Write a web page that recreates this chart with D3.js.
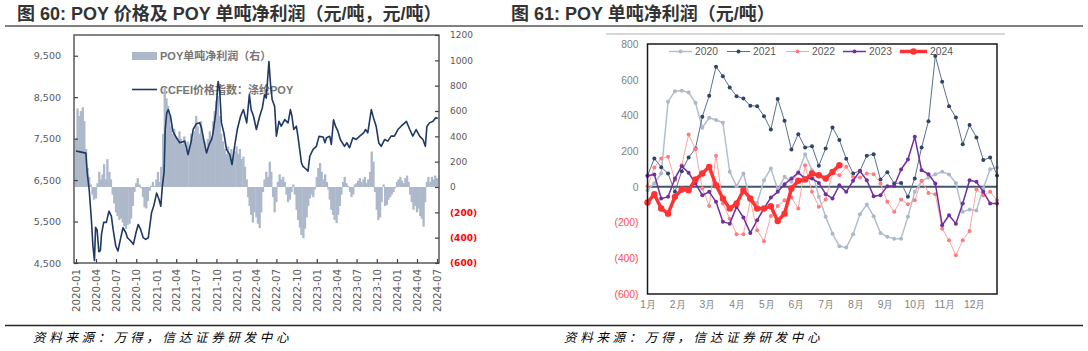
<!DOCTYPE html>
<html>
<head>
<meta charset="utf-8">
<script src="https://cdn.jsdelivr.net/npm/d3@7"></script>
<style>
body{margin:0;background:#fff;}
svg{display:block;font-family:"Liberation Sans","Noto Sans CJK SC",sans-serif;}
.title{font-size:18px;font-weight:bold;fill:#333;}
.src{font-size:12.5px;font-style:italic;letter-spacing:3.7px;fill:#000;font-family:"Noto Sans CJK SC",sans-serif;}
</style>
</head>
<body>
<svg id="chart" width="1088" height="351"></svg>
<script>
// ---------- 图60：POY价格（CCFEI 涤纶POY，元/吨） ----------
var priceDates = ["2020-01-01","2020-01-19","2020-02-15","2020-02-21","2020-03-01","2020-03-11","2020-03-18","2020-03-25","2020-03-30","2020-04-06","2020-04-14","2020-04-21","2020-04-26","2020-05-06","2020-05-18","2020-05-30","2020-06-10","2020-06-18","2020-06-30","2020-07-10","2020-07-21","2020-08-02","2020-08-15","2020-08-22","2020-09-06","2020-09-18","2020-09-30","2020-10-10","2020-10-21","2020-11-02","2020-11-13","2020-11-25","2020-12-10","2020-12-20",
  "2021-01-02","2021-01-13","2021-01-21","2021-01-28","2021-02-05","2021-02-10","2021-02-17","2021-02-24","2021-03-06","2021-03-17","2021-04-02","2021-04-17","2021-05-10","2021-05-25","2021-06-10","2021-06-17","2021-07-02","2021-07-17","2021-07-25","2021-08-04","2021-08-17","2021-08-29","2021-09-09","2021-09-16","2021-09-28","2021-10-09","2021-10-16","2021-10-24","2021-11-04","2021-11-16","2021-12-01","2021-12-11","2021-12-23",
  "2022-01-04","2022-01-19","2022-02-01","2022-02-16","2022-02-28","2022-03-08","2022-03-19","2022-04-01","2022-04-16","2022-04-28","2022-05-08","2022-05-16","2022-05-28","2022-06-05","2022-06-12","2022-06-23","2022-07-01","2022-07-13","2022-07-23","2022-08-08","2022-08-23","2022-09-03","2022-09-10","2022-09-18","2022-09-30","2022-10-07","2022-10-15","2022-10-23","2022-10-30","2022-11-15","2022-11-22","2022-11-30","2022-12-15","2022-12-30",
  "2023-01-11","2023-01-30","2023-02-07","2023-02-14","2023-03-01","2023-03-08","2023-03-18","2023-03-27","2023-04-07","2023-04-18","2023-05-07","2023-05-18","2023-05-30","2023-06-14","2023-06-29","2023-07-14","2023-08-02","2023-08-11","2023-08-21","2023-09-06","2023-09-16","2023-09-28","2023-10-10","2023-10-21","2023-11-06","2023-11-20","2023-12-05","2023-12-20",
  "2024-01-05","2024-01-20","2024-02-13","2024-02-28","2024-03-13","2024-03-28","2024-04-13","2024-04-28","2024-05-09","2024-05-16","2024-05-28","2024-06-13","2024-06-24","2024-07-05"];
var priceValues = [7200,7180,7150,6680,6270,5550,4910,4560,5360,5300,4770,4800,5190,5480,5480,5750,5630,5310,4910,4790,5070,5350,5230,5110,5030,4950,5230,5430,5310,5110,5070,5110,5720,5880,
  6190,6030,5870,6350,6700,7720,8120,8200,8040,7680,7520,7400,7440,7115,7480,7720,7860,7880,7760,7480,7155,7360,7480,7640,8120,8880,8680,7880,7640,7240,7115,6875,7320,
  7720,8040,8200,7880,8560,8200,8040,7720,8040,8240,8560,8480,9360,8760,8440,8280,7560,7920,7800,7960,7880,8200,8040,7720,7800,7560,7240,6915,6830,6755,6715,7075,7240,7315,
  7555,7540,7400,7520,7555,7360,7955,7800,7680,7480,7315,7400,7280,7520,7480,7555,7640,7720,7640,8200,8000,7800,7395,7315,7480,7440,7560,7560,
  7720,7800,7915,7720,7560,7720,7560,7480,7315,7795,7880,7920,8000,7990];

// POY单吨净利润（右轴），每月4个读数
var profit2020 = [380,620,560,600, 630,520,300,150, 80,20,-60,-100, -90,30,120,60, 100,180,60,220, 120,60,-60,-130,
  -200,-230,-260,-250, -280,-310,-330,-300, -290,-250,-150,-40, 30,70,20,-10, -80,-160,-170,-110, -30,10,40,10];
var profit2021 = [60,120,40,160, 420,780,700,640, 560,480,420,460, 400,360,440,380, 340,400,300,360, 320,420,380,440,
  560,480,420,520, 400,360,300,380, 440,380,520,600, 680,720,560,420, 360,300,260,320, 260,300,220,280];
var profit2022 = [320,260,300,220, 240,160,60,-80, -150,-220,-280,-200, -240,-290,-325,-200, -40,60,120,80, 200,120,-80,-200,
  -120,40,100,60, 80,40,-60,-120, -100,-40,20,-60, -180,-260,-320,-380, -405,-330,-240,-150, -90,-60,-80,-20];
var profit2023 = [80,150,190,120, 60,100,40,-20, -100,-180,-220,-260, -285,-220,-150,-60, 40,80,30,10, -40,-80,-60,20,
  30,50,70,40, 60,80,30,60, 120,280,200,-40, -180,-260,-240,-120, 20,-150,-140,-100, -80,-60,-40,-10];
var profit2024 = [40,60,80,50, 30,70,90,40, -60,-120,-180,-150, -200,-170,-230,-250, -313,-120,40,80, 40,80,60,90, 70];
var profitYears = [2020,2021,2022,2023,2024];

// ---------- 图61：POY单吨净利润，按周（元/吨） ----------
var years = ["2020","2021","2022","2023","2024"];
var weekly2020 = [-19,20,75,477,536,538,529,471,331,387,374,359,84,4,75,-71,-90,37,103,-15,56,28,79,183,93,-56,-168,-262,-333,-340,-265,-153,-99,-164,-258,-280,-290,-290,-168,-28,34,52,71,84,69,22,-140,-127,-133,-9,99,108];
var weekly2021 = [62,159,110,75,-28,88,164,215,393,510,673,620,557,508,495,454,452,396,321,492,370,209,295,220,228,118,215,333,262,157,75,90,174,183,41,82,19,22,-56,47,221,368,733,589,452,389,239,346,277,150,164,64];
var weekly2022 = [4,108,159,168,37,121,293,210,-9,-107,174,-93,-178,-265,-265,-75,-243,-305,-163,-107,-75,-60,-121,121,-28,-112,-71,75,65,112,56,52,75,71,19,-84,-140,-71,-97,-75,34,-34,-41,-234,-299,-383,-299,-247,-13,-47,-28,-75];
var weekly2023 = [62,69,-65,-56,47,116,79,19,-47,-28,-84,-196,-206,-112,-172,-258,-187,-121,-60,-28,15,47,80,47,47,22,-41,-65,9,-28,34,88,37,-52,-47,4,6,97,153,280,93,71,19,-215,-159,-206,-93,37,28,-28,-93,-93];
var weekly2024 = [-88,-41,-121,-150,-56,-15,-19,41,75,112,9,-65,-121,-93,-19,-65,-121,-121,-108,-191,-150,-9,34,41,75,65,47,84,121];
var monthLabels = ["1月","2月","3月","4月","5月","6月","7月","8月","9月","10月","11月","12月"];

var svg = d3.select("#chart");
var parse = d3.timeParse("%Y-%m-%d");
var paren = function(d){ return d < 0 ? "(" + (-d) + ")" : d; };

// 标题与分隔线
svg.append("text").attr("class","title").attr("x",17).attr("y",20).text("图 60:  POY 价格及 POY 单吨净利润（元/吨，元/吨）");
svg.append("text").attr("class","title").attr("x",511).attr("y",20).text("图 61:  POY 单吨净利润（元/吨）");
svg.append("line").attr("x1",5).attr("x2",1083).attr("y1",26).attr("y2",26).attr("stroke","#808080").attr("stroke-width",2);
svg.append("line").attr("x1",5).attr("x2",1083).attr("y1",325.5).attr("y2",325.5).attr("stroke","#262626").attr("stroke-width",1.3);
svg.append("text").attr("class","src").attr("x",33).attr("y",342).text("资料来源：万得，信达证券研发中心");
svg.append("text").attr("class","src").attr("x",564).attr("y",342).text("资料来源：万得，信达证券研发中心");

// ================= 左图 =================
var x1 = d3.scaleTime().domain([new Date(2020,0,1), new Date(2024,6,1)]).range([76,437]);
var yL = d3.scaleLinear().domain([4500,10000]).range([263,35]);
var yR = d3.scaleLinear().domain([-600,1200]).range([263,35]);

// legend (drawn first, the line runs over it)
var lg = svg.append("g").style("font-size","11px").style("font-weight","bold").attr("fill","#767676");
lg.append("rect").attr("x",132).attr("y",52).attr("width",25).attr("height",8).attr("fill","#ADB9CA");
lg.append("text").attr("x",160).attr("y",60).text("POY单吨净利润（右）");
lg.append("line").attr("x1",132).attr("x2",157).attr("y1",89.5).attr("y2",89.5).attr("stroke","#1F3864").attr("stroke-width",1.6);
lg.append("text").attr("x",160).attr("y",93.5).text("CCFEI价格指数：涤纶POY");

var bars = [];
var profitByYear = [profit2020,profit2021,profit2022,profit2023,profit2024];
profitByYear.forEach(function(arr, yi){
  arr.forEach(function(v, k){
    bars.push({date: new Date(profitYears[yi], Math.floor(k/4), 1 + (k%4)*7.6), v: v});
  });
});
svg.append("g").selectAll("rect").data(bars).enter().append("rect")
  .attr("x", function(d){ return x1(d.date) - 1.15; })
  .attr("width", 2.3)
  .attr("y", function(d){ return yR(Math.max(d.v,0)); })
  .attr("height", function(d){ return Math.abs(yR(d.v) - yR(0)); })
  .attr("fill","#ADB9CA");

var price = priceDates.map(function(d,i){ return {date: parse(d), v: priceValues[i]}; });
svg.append("path").datum(price)
  .attr("fill","none").attr("stroke","#1F3864").attr("stroke-width",1.6).attr("stroke-linejoin","round")
  .attr("d", d3.line().x(function(d){ return x1(d.date); }).y(function(d){ return yL(d.v); }));

svg.append("rect").attr("x",74).attr("y",35).attr("width",365).attr("height",228)
  .attr("fill","none").attr("stroke","#404040").attr("stroke-width",1.3);

var axL = svg.append("g").attr("transform","translate(74,0)")
  .call(d3.axisLeft(yL).tickValues([4500,5500,6500,7500,8500,9500]).tickSize(-4).tickPadding(13).tickFormat(d3.format(",")));
var axB = svg.append("g").attr("transform","translate(0,263)")
  .call(d3.axisBottom(x1).ticks(d3.timeMonth.every(3)).tickSize(-4).tickFormat(d3.timeFormat("%Y-%m")));
var axR = svg.append("g").attr("transform","translate(439,0)")
  .call(d3.axisRight(yR).tickValues(d3.range(-600,1201,200)).tickSize(-4).tickPadding(11).tickFormat(paren));
[axL,axB,axR].forEach(function(a){
  a.select(".domain").remove();
  a.selectAll(".tick line").attr("stroke","#404040").attr("stroke-width",1.2);
  a.selectAll("text").attr("fill","#595959").style("font-family","'DejaVu Sans',sans-serif");
});
axL.selectAll("text").style("font-size","9.5px");
axB.selectAll("text").style("font-size","10.3px")
  .attr("transform","rotate(-90)").attr("x",-6).attr("y",0).attr("dy","0.35em").style("text-anchor","end");
axR.selectAll("text").style("font-size","9px")
  .attr("fill", function(d){ return d < 0 ? "#FF0000" : "#595959"; })
  .style("font-weight", function(d){ return d < 0 ? "bold" : "normal"; });

// ================= 右图 =================
svg.append("line").attr("x1",606).attr("x2",1005).attr("y1",34).attr("y2",34).attr("stroke","#C8C8C8").attr("stroke-width",1.3);

var x2 = d3.scaleLinear().domain([0,51]).range([647.5,997]);
var y2 = d3.scaleLinear().domain([-600,800]).range([294,44]);

var ax2 = svg.append("g").attr("transform","translate(647.5,0)")
  .call(d3.axisLeft(y2).tickValues(d3.range(-600,801,200)).tickSize(0).tickPadding(9).tickFormat(paren));
ax2.select(".domain").remove();
ax2.selectAll("text").style("font-size","10.3px")
  .attr("fill", function(d){ return d < 0 ? "#FF4B4B" : "#7F7F7F"; });

var axM = svg.append("g").attr("transform","translate(0,294)")
  .call(d3.axisBottom(x2).tickValues(d3.range(12).map(function(i){ return i*52/12; })).tickSize(0).tickPadding(7)
    .tickFormat(function(d,i){ return monthLabels[i]; }));
axM.select(".domain").remove();
axM.selectAll("text").style("font-size","10.3px").attr("fill","#7F7F7F");

svg.append("line").attr("x1",647.5).attr("x2",997).attr("y1",y2(0)).attr("y2",y2(0))
  .attr("stroke","#44546A").attr("stroke-width",2);

var styles = [
  {line:"#B4BFCE", dot:"#ADB9CA", w:1.5, r:2},
  {line:"#5C7090", dot:"#2E4468", w:1, r:2},
  {line:"#FFA3A3", dot:"#FF7C80", w:1, r:2},
  {line:"#7030A0", dot:"#7030A0", w:1.5, r:2},
  {line:"#FF3333", dot:"#FF3333", w:3.5, r:3.2}
];
var weekly = [weekly2020,weekly2021,weekly2022,weekly2023,weekly2024];
var line2 = d3.line().x(function(d,i){ return x2(i); }).y(function(d){ return y2(d); });
weekly.forEach(function(arr, s){
  var st = styles[s];
  var g = svg.append("g");
  g.append("path").datum(arr).attr("fill","none").attr("stroke",st.line).attr("stroke-width",st.w)
    .attr("stroke-linejoin","round").attr("d", line2);
  g.selectAll("circle").data(arr).enter().append("circle")
    .attr("cx", function(d,i){ return x2(i); }).attr("cy", function(d){ return y2(d); })
    .attr("r", st.r).attr("fill", st.dot);
});

svg.append("rect").attr("x",647.5).attr("y",44).attr("width",349.5).attr("height",250)
  .attr("fill","none").attr("stroke","#1a1a1a").attr("stroke-width",1.5);

// legend
var legX = [669,727,786,843,900];
var legG = svg.append("g").style("font-size","10.3px");
years.forEach(function(yr, s){
  var st = styles[s], lw = s === 4 ? 27 : 23;
  legG.append("line").attr("x1",legX[s]).attr("x2",legX[s]+lw).attr("y1",51.5).attr("y2",51.5)
    .attr("stroke",st.line).attr("stroke-width",st.w);
  legG.append("circle").attr("cx",legX[s]+lw/2).attr("cy",51.5).attr("r",st.r).attr("fill",st.dot);
  legG.append("text").attr("x",legX[s]+lw+3).attr("y",55.2).attr("fill","#595959").text(yr);
});
</script>
</body>
</html>
